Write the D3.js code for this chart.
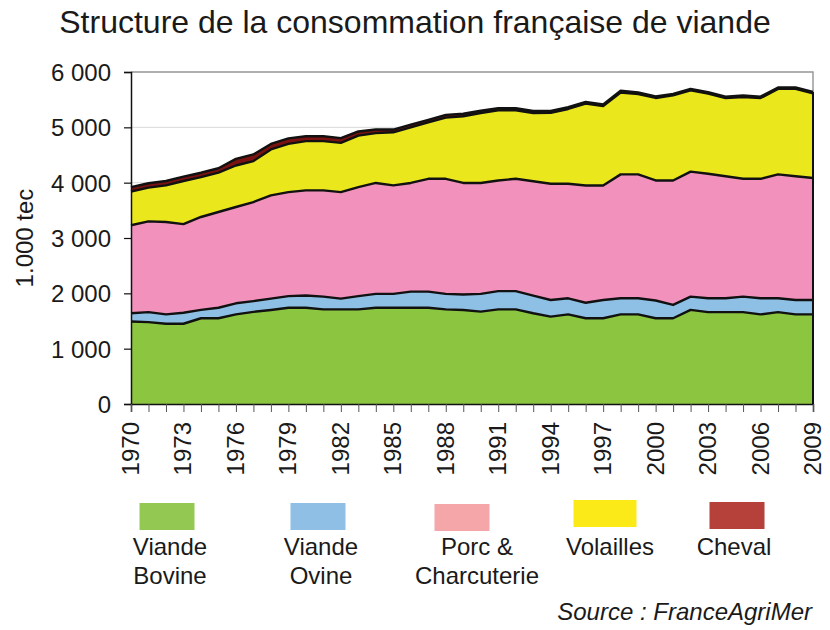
<!DOCTYPE html>
<html>
<head>
<meta charset="utf-8">
<script src="https://cdn.jsdelivr.net/npm/d3@7"></script>
<style>
  body { margin: 0; background: #fff; }
  text { font-family: "Liberation Sans", Arial, sans-serif; fill: #1a1a1a; }
</style>
</head>
<body>
<div id="chart"></div>
<script>
var years = d3.range(1970, 2010);
var tickYears = [1970,1973,1976,1979,1982,1985,1988,1991,1994,1997,2000,2003,2006,2009];
var yTicks = [0,1000,2000,3000,4000,5000,6000];

// 1.000 tec par an
var bovine = [1490,1480,1450,1450,1550,1550,1620,1665,1700,1740,
              1740,1710,1710,1710,1740,1740,1740,1740,1710,1700,
              1670,1710,1710,1640,1580,1620,1550,1550,1620,1620,
              1550,1550,1700,1660,1660,1660,1620,1660,1620,1620];
var ovine = [150,180,170,200,150,190,200,195,205,210,
             220,230,195,240,250,250,290,290,280,280,
             320,330,330,320,300,290,280,330,290,290,
             320,240,240,250,250,280,290,250,260,260];
var porc = [1590,1640,1670,1600,1680,1730,1740,1790,1865,1880,
            1900,1920,1925,1970,2005,1960,1965,2040,2080,2015,
            2005,2000,2030,2065,2100,2070,2120,2070,2240,2240,
            2170,2250,2260,2250,2205,2130,2160,2240,2235,2205];
var volailles = [610,610,660,780,720,710,750,740,830,870,
                 890,890,890,930,900,960,1005,1020,1105,1205,
                 1265,1267,1239,1235,1281,1352,1478,1434,1480,1450,
                 1491,1537,1467,1448,1413,1479,1459,1545,1580,1530];
var cheval = [80,80,80,80,80,80,120,120,100,100,
              90,90,85,75,65,50,50,45,50,45,
              40,38,36,35,34,33,32,31,30,30,
              29,28,28,27,27,26,26,25,25,25];

var keys = ["bovine","ovine","porc","volailles","cheval"];
var fills = {bovine:"#8cc540", ovine:"#8ec0e6", porc:"#f292bc", volailles:"#ebe71d", cheval:"#7b1212"};
var legendFills = {bovine:"#93c852", ovine:"#8fbfe5", porc:"#f4a6a9", volailles:"#fbe918", cheval:"#b6413a"};
var legendLabels = {bovine:["Viande","Bovine"], ovine:["Viande","Ovine"], porc:["Porc &","Charcuterie"], volailles:["Volailles"], cheval:["Cheval"]};

var data = years.map(function(y, i) {
    return {year:y, bovine:bovine[i], ovine:ovine[i], porc:porc[i], volailles:volailles[i], cheval:cheval[i]};
});

var W = 830, H = 630;
var margin = {top: 72, right: 17, bottom: 226, left: 131};
var width = W - margin.left - margin.right,
    height = H - margin.top - margin.bottom;

var svg = d3.select("#chart").append("svg")
    .attr("width", W)
    .attr("height", H);

svg.append("text")
    .attr("x", 415).attr("y", 33)
    .attr("text-anchor", "middle")
    .style("font-size", "32px")
    .text("Structure de la consommation française de viande");

var g = svg.append("g")
    .attr("transform", "translate(" + margin.left + "," + margin.top + ")");

var x = d3.scaleLinear().domain([1970, 2009]).range([0, width]);
var y = d3.scaleLinear().domain([0, 6000]).range([height, 0]);

// grid
g.selectAll(".grid").data(yTicks.slice(1)).enter().append("line")
    .attr("x1", 0).attr("x2", width)
    .attr("y1", function(d) { return y(d); })
    .attr("y2", function(d) { return y(d); })
    .attr("stroke", "#d9d9d9").attr("stroke-width", 1);

// top and right border
g.append("path")
    .attr("d", "M0," + y(6000) + "H" + width + "V" + height)
    .attr("fill", "none").attr("stroke", "#9a9a9a").attr("stroke-width", 1.5);

var series = d3.stack().keys(keys)(data);

var area = d3.area()
    .x(function(d) { return x(d.data.year); })
    .y0(function(d) { return y(d[0]); })
    .y1(function(d) { return y(d[1]); });

var topLine = d3.line()
    .x(function(d) { return x(d.data.year); })
    .y(function(d) { return y(d[1]); });

g.selectAll(".layer").data(series).enter().append("path")
    .attr("class", "layer")
    .attr("fill", function(d) { return fills[d.key]; })
    .attr("d", area);

g.selectAll(".edge").data(series).enter().append("path")
    .attr("class", "edge")
    .attr("fill", "none")
    .attr("stroke", "#111")
    .attr("stroke-width", 2.4)
    .attr("stroke-linejoin", "round")
    .attr("d", topLine);

// right edge line of the areas
g.append("line")
    .attr("x1", width).attr("x2", width)
    .attr("y1", height).attr("y2", y(d3.sum(keys, function(k) { return data[data.length-1][k]; })))
    .attr("stroke", "#111").attr("stroke-width", 2);

// axes
var yAxis = d3.axisLeft(y).tickValues(yTicks).tickSize(7).tickPadding(13)
    .tickFormat(function(d) { return d3.format(",")(d).replace(",", " "); });
var gy = g.append("g").call(yAxis);
gy.select(".domain").attr("stroke", "#111").attr("stroke-width", 1.5);
gy.selectAll(".tick line").attr("stroke", "#111").attr("stroke-width", 1.2);
gy.selectAll("text").style("font-size", "24px").attr("fill", "#1a1a1a").attr("dy", "0.36em");

var xAxis = d3.axisBottom(x).tickValues(years).tickSize(8).tickFormat("");
var gx = g.append("g").attr("transform", "translate(0," + height + ")").call(xAxis);
gx.select(".domain").attr("stroke", "#111").attr("stroke-width", 1.5);
gx.selectAll(".tick line").attr("stroke", "#555").attr("stroke-width", 1);

gx.selectAll(".ylab").data(tickYears).enter().append("text")
    .attr("class", "ylab")
    .attr("transform", function(d) { return "translate(" + (x(d) + 8) + ",18) rotate(-90)"; })
    .attr("text-anchor", "end")
    .style("font-size", "24px")
    .text(function(d) { return d; });

// y label
svg.append("text")
    .attr("transform", "translate(33,238) rotate(-90)")
    .attr("text-anchor", "middle")
    .style("font-size", "24px")
    .text("1.000 tec");

// legend
var legendPos = {
    bovine:    {cx: 167, sw: 55, sy: 503, tx: 170},
    ovine:     {cx: 318, sw: 55, sy: 503, tx: 321},
    porc:      {cx: 462, sw: 55, sy: 504, tx: 477},
    volailles: {cx: 605, sw: 63, sy: 500, tx: 610},
    cheval:    {cx: 737, sw: 55, sy: 502, tx: 734}
};
var leg = svg.append("g");
keys.forEach(function(k) {
    var p = legendPos[k];
    leg.append("rect")
        .attr("x", p.cx - p.sw / 2).attr("y", p.sy)
        .attr("width", p.sw).attr("height", 27)
        .attr("fill", legendFills[k]);
    legendLabels[k].forEach(function(t, i) {
        leg.append("text")
            .attr("x", p.tx).attr("y", 555 + i * 29)
            .attr("text-anchor", "middle")
            .style("font-size", "24px")
            .text(t);
    });
});

svg.append("text")
    .attr("x", 812).attr("y", 620)
    .attr("text-anchor", "end")
    .style("font-size", "24px")
    .style("font-style", "italic")
    .text("Source : FranceAgriMer");
</script>
</body>
</html>
